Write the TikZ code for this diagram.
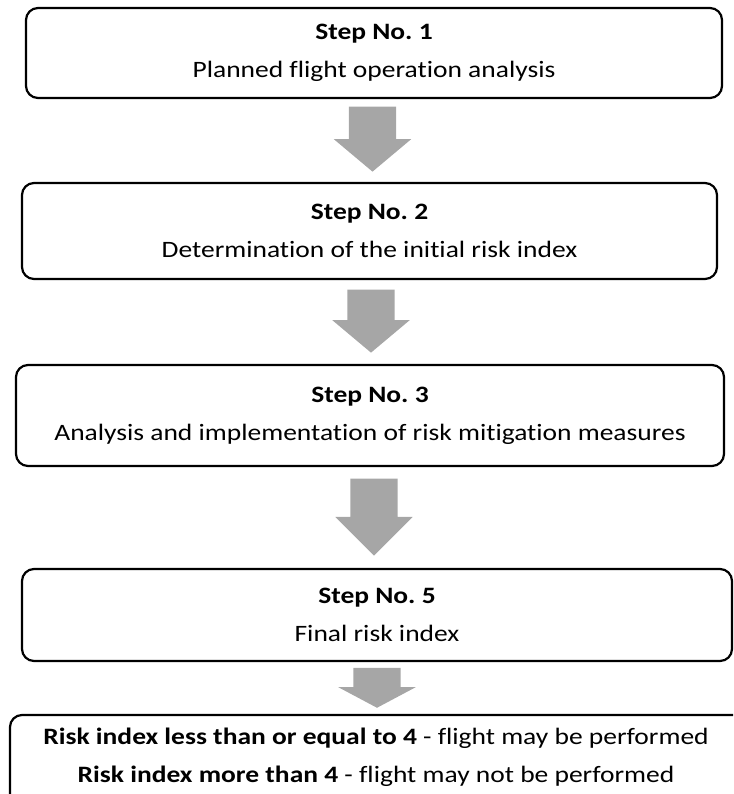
\documentclass[tikz,border=0pt]{standalone}
\usepackage{fontspec}
\setmainfont{Carlito}[FakeStretch=1.17,Ligatures=NoCommon]
\frenchspacing
\usepackage{tikz}
\usetikzlibrary{shapes.arrows,calc}
\definecolor{StepGrey}{HTML}{A6A6A6}

\begin{document}
\begin{tikzpicture}[x=1pt,y=-1pt,
  font=\fontsize{23.5}{38}\selectfont,
  stepbox/.style={draw,line width=2.2pt,rounded corners=12pt,align=center,inner sep=0pt},
  downarrow/.style={single arrow,fill=StepGrey,draw=none,rotate=-90,anchor=tip,
    inner xsep=0pt,inner ysep=23.5pt,minimum width=77pt,
    single arrow head extend=15pt,single arrow tip angle=100}]
  \useasboundingbox (0,0) rectangle (733,794);
  \clip (0,0) rectangle (733,794);

  \node[stepbox,minimum width=696pt,minimum height=90pt] (s1) at (374,53)
    {\textbf{Step No. 1}\\Planned flight operation analysis};
  \node[stepbox,minimum width=695pt,minimum height=96pt] (s2) at (369.5,231)
    {\textbf{Step No. 2}\\Determination of the initial risk index};
  \node[stepbox,minimum width=708pt,minimum height=101pt] (s3) at (370,415.5)
    {\textbf{Step No. 3}\\Analysis and implementation of risk mitigation measures};
  \node[stepbox,minimum width=710pt,minimum height=92pt] (s4) at (377,615)
    {\textbf{Step No. 5}\\Final risk index};
  \node[align=center,inner sep=0pt] (s6) at (376,757)
    {\textbf{Risk index less than or equal to 4} - flight may be performed\\
     \textbf{Risk index more than 4} - flight may not be performed};
  % last box runs off the page
  \coordinate (s6top) at ($(s6.center)+(0,-42)$);
  \draw[line width=2.2pt,rounded corners=12pt] ($(s6.center)+(-366,-42)$) rectangle +(750,100);

  \node[downarrow,minimum height=65pt] (a1) at ($(s2.north)+(3,-10)$) {};
  \node[downarrow,minimum height=63pt] (a2) at ($(s3.north)+(1,-11)$) {};
  \node[downarrow,minimum height=77pt,single arrow tip angle=90] (a3) at ($(s4.north)+(-3,-12)$) {};
  \node[downarrow,minimum height=40pt,single arrow tip angle=124] (a4) at ($(s6top)+(1,-7)$) {};
\end{tikzpicture}
\end{document}
